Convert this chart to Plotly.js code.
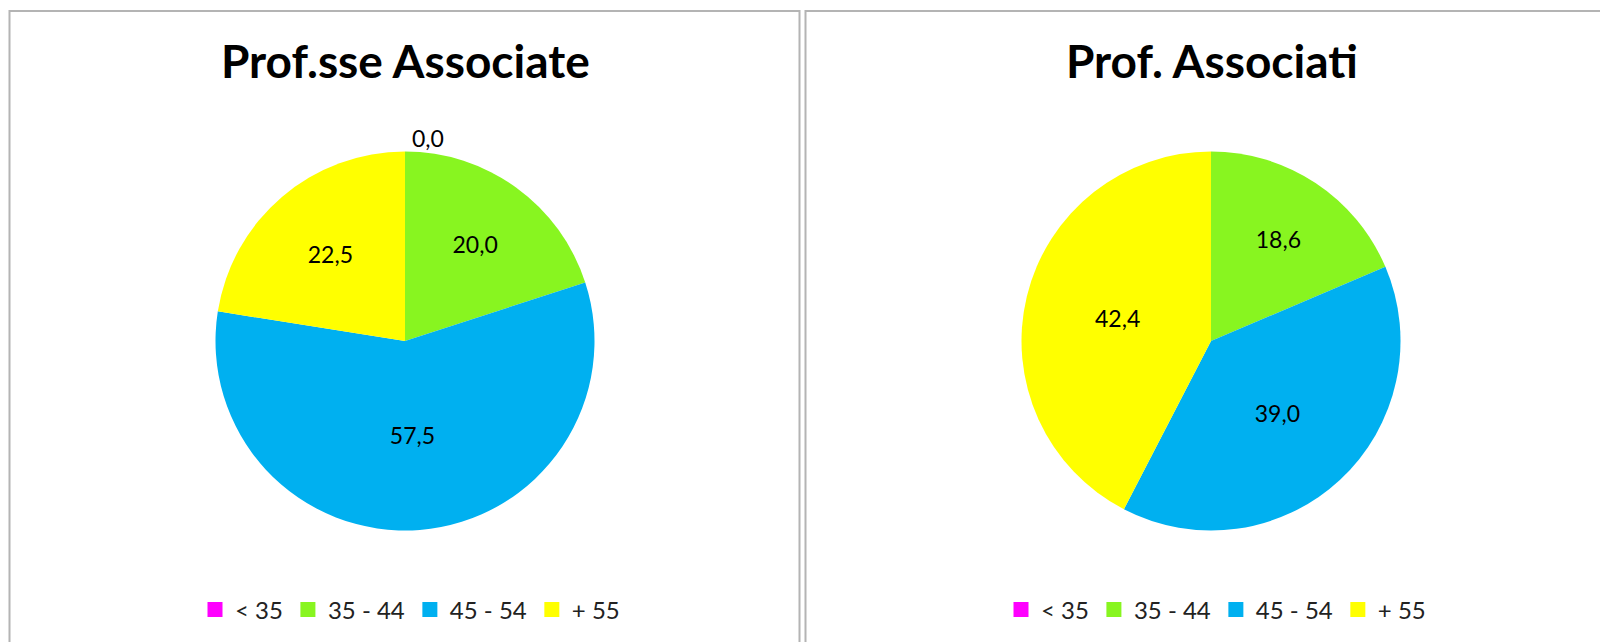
<!DOCTYPE html>
<html>
<head>
<meta charset="utf-8">
<script src="https://cdn.plot.ly/plotly-3.0.1.min.js"></script>
<style>
html,body{margin:0;padding:0;background:#fff;}
#chart{width:1600px;height:642px;}
</style>
</head>
<body>
<div id="chart"></div>
<script>
// ---- data ----
const categories = ['< 35', '35 - 44', '45 - 54', '+ 55'];
const colors = ['#FF00FF', '#88F520', '#00B0F0', '#FFFF00'];
const titleLeft = 'Prof.sse Associate';
const titleRight = 'Prof. Associati';
const valuesLeft = [0.0, 20.0, 57.5, 22.5];
const valuesRight = [0.0, 18.6, 39.0, 42.4];
const textPosLeft = ['outside', 'inside', 'inside', 'inside'];
const textPosRight = ['none', 'inside', 'inside', 'inside'];

// ---- layout helpers (pixel -> paper, margins are zero) ----
const W = 1600, H = 642;
const px = x => x / W;
const py = y => 1 - y / H;
const FONT = 'Lato, "Open Sans", "DejaVu Sans", sans-serif';

function pieTrace(values, textpos, cx, cy, r) {
  return {
    type: 'pie',
    labels: categories,
    values: values,
    sort: false,
    direction: 'clockwise',
    rotation: 0,
    marker: {colors: colors, line: {width: 0}},
    texttemplate: '%{value:.1f}',
    textposition: textpos,
    insidetextorientation: 'horizontal',
    textfont: {family: FONT, size: 23, color: '#000'},
    outsidetextfont: {family: FONT, size: 23, color: '#000'},
    hoverinfo: 'label+value',
    showlegend: false,
    domain: {x: [px(cx - r), px(cx + r)], y: [py(cy + r), py(cy - r)]}
  };
}

// legend entries: one square marker per category, per panel
function legendTraces(legendId) {
  return categories.map((c, i) => ({
    type: 'scatter', mode: 'markers',
    x: [null], y: [null],
    name: c,
    marker: {symbol: 'square', size: 15, color: colors[i], line: {width: 0}},
    hoverinfo: 'skip',
    showlegend: true,
    legend: legendId
  }));
}

const data = [
  pieTrace(valuesLeft, textPosLeft, 405, 341, 189.5),
  pieTrace(valuesRight, textPosRight, 1211, 341, 189.5),
  ...legendTraces('legend'),
  ...legendTraces('legend2')
];

const legendStyle = (cx) => ({
  orientation: 'h',
  x: px(cx), xanchor: 'center',
  y: py(610), yanchor: 'middle',
  font: {family: FONT, size: 24, color: '#222'},
  traceorder: 'normal',
  itemwidth: 30,
  itemclick: false, itemdoubleclick: false,
  bgcolor: 'rgba(0,0,0,0)'
});

const layout = {
  width: W, height: H,
  margin: {l: 0, r: 0, t: 0, b: 0},
  paper_bgcolor: '#fff',
  plot_bgcolor: 'rgba(0,0,0,0)',
  separators: ',.',
  xaxis: {visible: false, range: [0, 1]},
  yaxis: {visible: false, range: [0, 1]},
  legend: legendStyle(410),
  legend2: legendStyle(1216),
  annotations: [
    {text: '<b>' + titleLeft + '</b>', xref: 'paper', yref: 'paper', x: px(406), y: py(60),
     xanchor: 'center', yanchor: 'middle', showarrow: false,
     font: {family: FONT, size: 46, color: '#000'}},
    {text: '<b>' + titleRight + '</b>', xref: 'paper', yref: 'paper', x: px(1212), y: py(60),
     xanchor: 'center', yanchor: 'middle', showarrow: false,
     font: {family: FONT, size: 46, color: '#000'}}
  ],
  shapes: [
    {type: 'rect', xref: 'paper', yref: 'paper', x0: px(9.5), x1: px(799.5), y0: py(11), y1: -0.2,
     line: {color: '#b4b4b4', width: 2}, fillcolor: 'rgba(0,0,0,0)', layer: 'below'},
    {type: 'rect', xref: 'paper', yref: 'paper', x0: px(805.5), x1: 1.05, y0: py(11), y1: -0.2,
     line: {color: '#b4b4b4', width: 2}, fillcolor: 'rgba(0,0,0,0)', layer: 'below'}
  ]
};

Plotly.newPlot('chart', data, layout, {displayModeBar: false, staticPlot: true});
</script>
</body>
</html>
